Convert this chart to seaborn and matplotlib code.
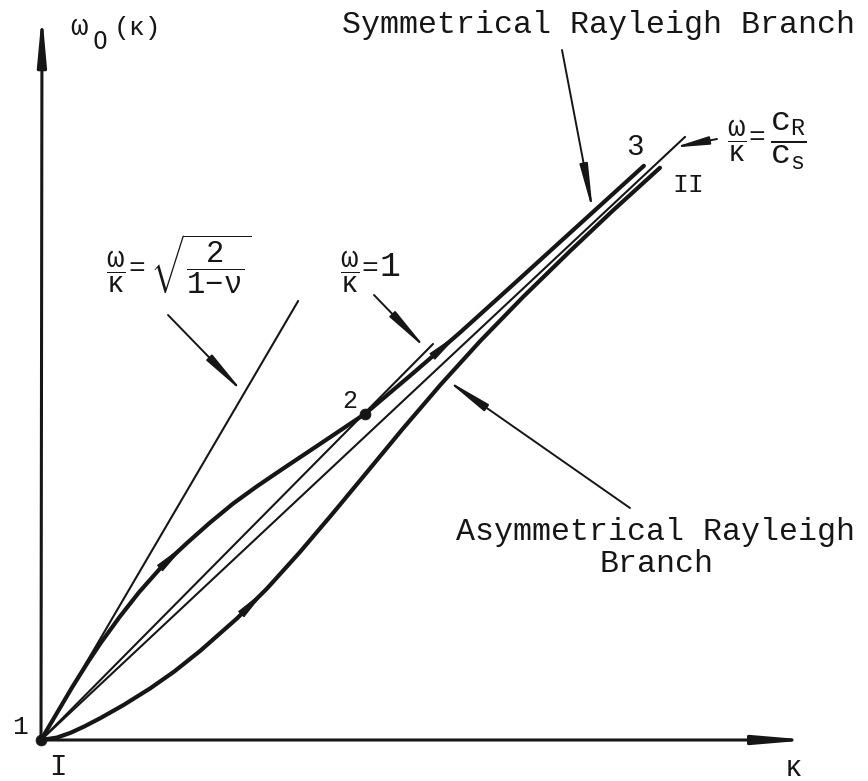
import numpy as np
import pandas as pd
import matplotlib
matplotlib.use("Agg")
import matplotlib.pyplot as plt
import seaborn as sns

# Symmetrical Rayleigh branch (upper curve): normalized wavenumber and frequency
kappa_sym = [0, 0.04, 0.08, 0.12, 0.153, 0.20, 0.25, 0.31, 0.372, 0.43, 0.49,
             0.55, 0.617, 0.72, 0.827, 0.95, 1.069, 1.20, 1.35, 1.538]
omega_sym = [0, 0.067, 0.134, 0.197, 0.246, 0.31, 0.373, 0.44, 0.497, 0.548, 0.597,
             0.640, 0.685, 0.753, 0.824, 0.927, 1.029, 1.146, 1.281, 1.450]

# Asymmetrical Rayleigh branch (lower curve)
kappa_asym = [0, 0.04, 0.075, 0.11, 0.151, 0.21, 0.278, 0.34, 0.406, 0.5, 0.577,
              0.66, 0.745, 0.827, 0.923, 1.02, 1.12, 1.23, 1.35, 1.46, 1.579]
omega_asym = [0, 0.006, 0.018, 0.034, 0.055, 0.088, 0.130, 0.173, 0.225, 0.307, 0.383,
              0.474, 0.573, 0.671, 0.786, 0.898, 1.007, 1.119, 1.235, 1.338, 1.445]

# Straight reference lines omega = slope * kappa
ref_names = ["dilatational", "shear", "rayleigh"]
ref_slopes = [1.69, 1.0, 0.927]       # sqrt(2/(1-nu)), 1, cR/cs
ref_kappa_end = [0.656, 1.0, 1.643]

# Marked points 1 and 2
point_kappa = [0.0, 0.827]
point_omega = [0.0, 0.824]

# Direction arrows on the branches (index into the curve arrays)
sym_arrow_idx = [8, 16]
asym_arrow_idx = [10]

sns.set_theme(style="white")
plt.rcParams["font.family"] = ["Liberation Mono", "DejaVu Sans"]
plt.rcParams["mathtext.fontset"] = "custom"
plt.rcParams["mathtext.rm"] = "Liberation Mono"
plt.rcParams["mathtext.it"] = "Liberation Mono"
plt.rcParams["mathtext.bf"] = "Liberation Mono:bold"

ink = "#161616"
W, H = 868, 781
X0, Y0, SX, SY = 41, 740, 392, 396   # origin pixel and pixels per unit


def px(x, y):
    """Pixel position on the page -> data coordinates."""
    return ((x - X0) / SX, (Y0 - y) / SY)


fig = plt.figure(figsize=(W / 100, H / 100), dpi=100)
ax = fig.add_axes([0, 0, 1, 1])
ax.set_xlim(-X0 / SX, (W - X0) / SX)
ax.set_ylim(-(H - Y0) / SY, Y0 / SY)
ax.axis("off")

# axes with arrowheads
ax.annotate("", xy=px(810, 740), xytext=(0, 0),
            arrowprops=dict(arrowstyle="-|>,head_length=2.6,head_width=0.22",
                            lw=2.2, color=ink, shrinkA=0, shrinkB=0))
ax.annotate("", xy=px(42, 13), xytext=(0, 0),
            arrowprops=dict(arrowstyle="-|>,head_length=2.4,head_width=0.22",
                            lw=2.2, color=ink, shrinkA=0, shrinkB=0))

# reference lines
ref = pd.DataFrame({
    "name": np.repeat(ref_names, 2),
    "kappa": np.ravel([[0, k] for k in ref_kappa_end]),
    "omega": np.ravel([[0, k * s] for k, s in zip(ref_kappa_end, ref_slopes)]),
})
for name, g in ref.groupby("name"):
    sns.lineplot(data=g, x="kappa", y="omega", ax=ax, color=ink, lw=1.5,
                 estimator=None, sort=False)

# branches
sns.lineplot(x=kappa_sym, y=omega_sym, ax=ax, color=ink, lw=3.0,
             estimator=None, sort=False)
sns.lineplot(x=kappa_asym, y=omega_asym, ax=ax, color=ink, lw=3.0,
             estimator=None, sort=False)

# direction arrows along the branches
for ks, ws, idxs in [(kappa_sym, omega_sym, sym_arrow_idx),
                     (kappa_asym, omega_asym, asym_arrow_idx)]:
    for i in idxs:
        ax.annotate("", xy=(ks[i], ws[i]), xytext=(ks[i - 1], ws[i - 1]),
                    arrowprops=dict(arrowstyle="-|>,head_length=1.9,head_width=0.22",
                                    lw=0.8, color=ink, shrinkA=0, shrinkB=0))

# points 1 and 2
sns.scatterplot(x=point_kappa, y=point_omega, ax=ax, s=60, color=ink,
                edgecolor=ink, zorder=5)

# pointer arrows
pointer = dict(arrowstyle="-|>,head_length=2.3,head_width=0.2",
               lw=1.4, color=ink, shrinkA=0, shrinkB=0)
short_pointer = dict(pointer, arrowstyle="-|>,head_length=1.7,head_width=0.2")
k_tip = 0.518
ax.annotate("", xy=(k_tip, ref_slopes[0] * k_tip), xytext=px(168, 315), arrowprops=pointer)
k_tip = 0.985
ax.annotate("", xy=(k_tip, ref_slopes[1] * k_tip), xytext=px(374, 295), arrowprops=pointer)
k_tip = 1.614
ax.annotate("", xy=(k_tip, ref_slopes[2] * k_tip), xytext=px(717, 139),
            arrowprops=short_pointer)
k_tip = 1.408
ax.annotate("", xy=(k_tip, np.interp(k_tip, kappa_sym, omega_sym)), xytext=px(562, 50),
            arrowprops=pointer)
k_tip = 1.032
ax.annotate("", xy=(k_tip, np.interp(k_tip, kappa_asym, omega_asym)), xytext=px(630, 508),
            arrowprops=pointer)

# text
def put(x, y, s, size, ha="center", va="center", **kw):
    ax.text(*px(x, y), s, fontsize=size, ha=ha, va=va, color=ink, **kw)

put(342, 33, "Symmetrical Rayleigh Branch", 22.8, ha="left", va="baseline")
put(656, 540, "Asymmetrical Rayleigh", 22.8, va="baseline")
put(656, 572, "Branch", 22.8, va="baseline")

put(70, 35, "ω", 21, ha="left", va="baseline")
put(92, 49, "0", 17, ha="left", va="baseline", family="DejaVu Sans")
put(114, 35, "(κ)", 19, ha="left", va="baseline")

put(20, 727, "1", 19)
put(58, 767, "I", 21)
put(793, 768, "κ", 21)
put(350, 401, "2", 18)
put(635, 147, "3", 21)
put(688, 185, "II", 19)

frac_wk = r"$\dfrac{\omega}{\kappa}$"
# omega/kappa = sqrt(2/(1-nu))
put(116, 272, frac_wk, 21)
put(137, 269, "=", 20)
put(201, 264, r"$\sqrt{\dfrac{2}{1\!-\!\nu}}$", 22)
# omega/kappa = 1
put(350, 272, frac_wk, 21)
put(370, 269, "=", 20)
put(390, 266, "1", 25)
# omega/kappa = cR/cs
put(737, 141, frac_wk, 21)
put(757, 138, "=", 20)
put(788, 141, r"$\dfrac{c_R}{c_s}$", 24)

fig.savefig("out.png", dpi=100, facecolor="white")
